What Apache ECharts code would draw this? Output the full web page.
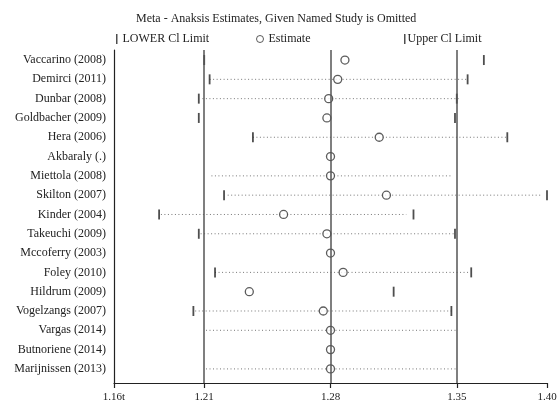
<!DOCTYPE html>
<html>
<head>
<meta charset="utf-8">
<script src="https://cdn.jsdelivr.net/npm/echarts@6/dist/echarts.min.js"></script>
<style>html,body{margin:0;padding:0;background:#fff;}#c{width:557px;height:400px;}</style>
</head>
<body>
<div id="c"></div>
<script>
const studies = ['Vaccarino (2008)','Demirci (2011)','Dunbar (2008)','Goldbacher (2009)','Hera (2006)','Akbaraly (.)','Miettola (2008)','Skilton (2007)','Kinder (2004)','Takeuchi (2009)','Mccoferry (2003)','Foley (2010)','Hildrum (2009)','Vogelzangs (2007)','Vargas (2014)','Butnoriene (2014)','Marijnissen (2013)'];
const estimate = [1.288,1.284,1.279,1.278,1.307,1.280,1.280,1.311,1.254,1.278,1.280,1.287,1.235,1.276,1.280,1.280,1.280];
const lowerCI = [1.210,1.213,1.207,1.207,1.237,null,null,1.221,1.185,1.207,null,1.216,null,1.204,null,null,null];
const upperCI = [1.365,1.356,1.350,1.349,1.378,null,null,1.400,1.326,1.349,null,1.358,1.315,1.347,null,null,null];
const dotFrom = [null,1.213,1.209,null,1.237,null,1.214,1.223,1.186,1.208,null,1.216,null,1.205,1.211,null,1.211];
const dotTo   = [null,1.356,1.351,null,1.378,null,1.347,1.397,1.322,1.349,null,1.357,null,1.347,1.350,null,1.350];
const tickValues = [1.16,1.21,1.28,1.35,1.40];
const tickLabels = ['1.16t','1.21','1.28','1.35','1.40'];
const refLines = [1.21,1.28,1.35];
const titleText = 'Meta - Anaksis Estimates, Given Named Study is Omitted';

const FONT = 'Liberation Serif';
const idx = studies.map((_, i) => i);
const pts = (arr) => arr.map((v, i) => v == null ? null : [v, i]).filter(Boolean);
const dots = idx.filter(i => dotFrom[i] != null).map(i => [dotFrom[i], dotTo[i], i]);

const chart = echarts.init(document.getElementById('c'), null, {renderer: 'canvas'});
chart.setOption({
  animation: false,
  backgroundColor: '#fff',
  title: {
    text: titleText, left: 131, top: 8,
    textStyle: {fontFamily: FONT, fontSize: 12, fontWeight: 'normal', color: '#222'}
  },
  legend: [
    {data: [{name: 'LOWER Cl Limit', icon: 'rect'}], left: 111, top: 28, itemWidth: 1.5, itemHeight: 10,
     textStyle: {fontFamily: FONT, fontSize: 12, color: '#222'}},
    {data: [{name: 'Estimate', icon: 'circle'}], left: 251, top: 28, itemWidth: 7, itemHeight: 7,
     itemStyle: {borderWidth: 1},
     textStyle: {fontFamily: FONT, fontSize: 12, color: '#222'}},
    {data: [{name: 'Upper Cl Limit', icon: 'rect'}], left: 399, top: 28, itemWidth: 1.5, itemHeight: 10,
     textStyle: {fontFamily: FONT, fontSize: 12, color: '#222', padding: [0, 0, 0, -3]}}
  ],
  grid: {left: 114, right: 10, top: 50, bottom: 17, containLabel: false, outerBoundsMode: 'none'},
  xAxis: {
    type: 'value', min: 1.16, max: 1.40, scale: true,
    splitLine: {show: false},
    axisLine: {show: true, onZero: false, lineStyle: {color: '#222', width: 1.2}},
    axisTick: {show: true, customValues: tickValues, length: 5, lineStyle: {color: '#222', width: 1.2}},
    axisLabel: {customValues: tickValues, margin: 9, fontFamily: FONT, fontSize: 11, color: '#222',
      formatter: v => { const k = tickValues.findIndex(t => Math.abs(t - v) < 1e-6); return k >= 0 ? tickLabels[k] : ''; }}
  },
  yAxis: {
    type: 'value', inverse: true, min: -0.52, max: 16.73,
    splitLine: {show: false},
    axisLine: {show: true, onZero: false, lineStyle: {color: '#222', width: 1.2}},
    axisTick: {show: false},
    axisLabel: {customValues: idx, margin: 8, fontFamily: FONT, fontSize: 12, color: '#222',
      formatter: v => studies[Math.round(v)] || ''}
  },
  series: [
    {
      type: 'custom', name: 'dots', z: 1, silent: true,
      encode: {x: [0, 1], y: 2},
      data: dots,
      renderItem: (params, api) => {
        const a = api.coord([api.value(0), api.value(2)]);
        const b = api.coord([api.value(1), api.value(2)]);
        return {type: 'line', shape: {x1: a[0], y1: a[1], x2: b[0], y2: b[1]},
          style: {stroke: '#777', lineWidth: 1, lineDash: [1, 2.5]}};
      }
    },
    {
      type: 'scatter', name: 'LOWER Cl Limit', z: 3,
      symbol: 'rect', symbolSize: [1.8, 10],
      itemStyle: {color: '#222'},
      data: pts(lowerCI)
    },
    {
      type: 'scatter', name: 'Upper Cl Limit', z: 3,
      symbol: 'rect', symbolSize: [1.8, 10],
      itemStyle: {color: '#222'},
      data: pts(upperCI)
    },
    {
      type: 'scatter', name: 'Estimate', z: 4,
      symbol: 'circle', symbolSize: 8,
      itemStyle: {color: '#fff', borderColor: '#333', borderWidth: 1.3},
      data: pts(estimate),
      markLine: {
        silent: true, symbol: ['none', 'none'], label: {show: false},
        lineStyle: {color: '#555', width: 1.5, type: 'solid'},
        data: refLines.map(v => ({xAxis: v}))
      }
    }
  ]
});
</script>
</body>
</html>
